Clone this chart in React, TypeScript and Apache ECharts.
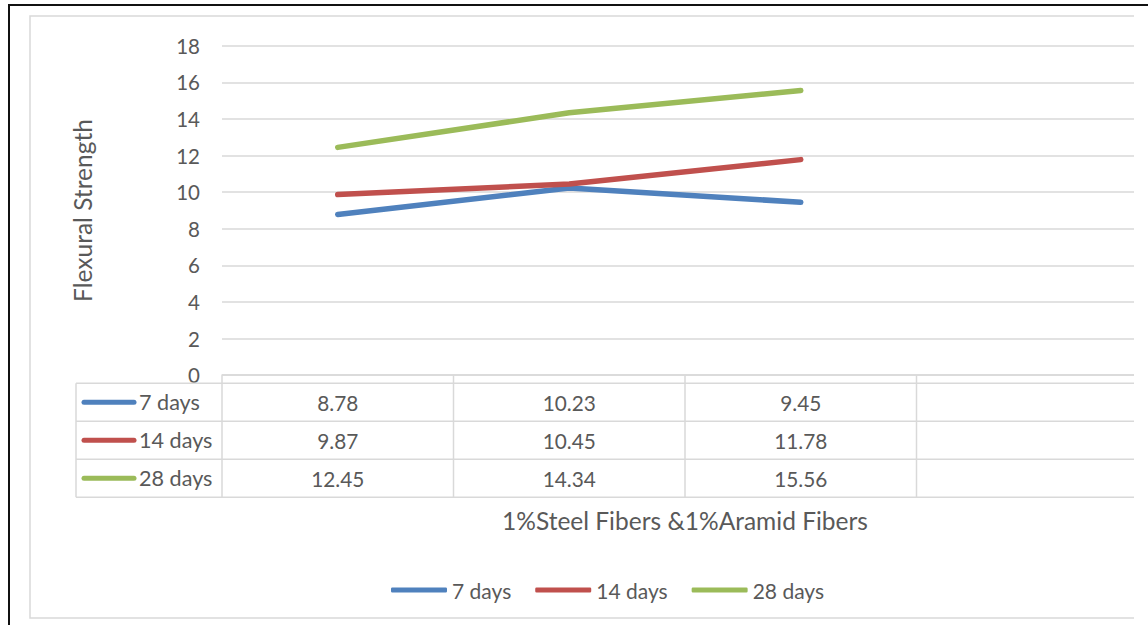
import React, { useEffect, useRef } from 'react';
import * as echarts from 'echarts';

// Flexural strength of mixes with 1% steel + 1% aramid fibres, by curing age
const categories = ['M1', 'M2', 'M3', 'M4'];
const seriesNames = ['7 days', '14 days', '28 days'];
const days7 = [8.78, 10.23, 9.45];
const days14 = [9.87, 10.45, 11.78];
const days28 = [12.45, 14.34, 15.56];
const seriesValues = [days7, days14, days28];
const seriesColors = ['#4F81BD', '#C0504D', '#9BBB59'];
const yMin = 0;
const yMax = 18;
const yStep = 2;
const xTitle = '1%Steel Fibers &1%Aramid Fibers';
const yTitle = 'Flexural Strength';

const FONT = 'Lato, "Open Sans", sans-serif';
const TEXT = '#595959';
const GRID = '#D9D9D9';
const FS_TICK = 20.5;
const FS_VALUE = 20.8;
const FS_NAME = 21.6;
const FS_LEGEND = 21;
const FS_TITLE = 24.5;

export default function App() {
  const ref = useRef<HTMLDivElement>(null);

  useEffect(() => {
    const chart = echarts.init(ref.current!, null, { renderer: 'svg' });

    chart.setOption({
      animation: false,
      backgroundColor: '#ffffff',
      textStyle: { fontFamily: FONT },
      grid: { left: 222, top: 45.8, width: 931, height: 329.4, containLabel: false },
      xAxis: {
        type: 'category',
        data: categories,
        boundaryGap: true,
        axisLine: { lineStyle: { color: GRID, width: 1.5 } },
        axisTick: { show: false },
        axisLabel: { show: false },
        splitLine: { show: false },
        name: xTitle,
        nameLocation: 'middle',
        nameGap: 133,
        nameTextStyle: { color: TEXT, fontSize: FS_TITLE, fontFamily: FONT },
      },
      yAxis: {
        type: 'value',
        min: yMin,
        max: yMax,
        interval: yStep,
        axisLine: { show: false },
        axisTick: { show: false },
        axisLabel: { color: TEXT, fontSize: FS_TICK, fontFamily: FONT, margin: 22 },
        splitLine: { lineStyle: { color: GRID, width: 1.5 } },
        name: yTitle,
        nameLocation: 'middle',
        nameRotate: 90,
        nameGap: 127,
        nameTextStyle: { color: TEXT, fontSize: FS_TITLE, fontFamily: FONT },
      },
      legend: {
        left: 386,
        top: 573,
        icon: 'roundRect',
        itemWidth: 56,
        itemHeight: 5,
        itemGap: 24,
        textStyle: { color: TEXT, fontSize: FS_LEGEND, fontFamily: FONT, lineHeight: 24 },
        data: seriesNames,
      },
      series: seriesNames.map((name, i) => ({
        name,
        type: 'line',
        data: seriesValues[i],
        showSymbol: false,
        symbol: 'none',
        color: seriesColors[i],
        lineStyle: { width: 5.5, color: seriesColors[i], cap: 'round', join: 'round' },
        z: 5,
      })),
    });

    // Data table under the plot, laid out from the axis scales
    const centers = categories.map((c) => chart.convertToPixel({ xAxisIndex: 0 }, c) as number);
    const catW = centers[1] - centers[0];
    const axisY = chart.convertToPixel({ yAxisIndex: 0 }, yMin) as number;
    const tableTop = axisY + 8;
    const rowH = 38;
    const tableLeft = 76;
    const tableRight = centers[centers.length - 1] + catW / 2;
    const rows = seriesNames.length;
    const tableBottom = tableTop + rows * rowH;

    const graphics: any[] = [];
    // outer frames
    graphics.push({
      type: 'rect',
      shape: { x: 30, y: 16, width: 1200, height: 602 },
      style: { fill: 'none', stroke: GRID, lineWidth: 1.5 },
      z: 1,
    });
    for (let r = 0; r <= rows; r++) {
      const y = tableTop + r * rowH;
      graphics.push({
        type: 'line',
        shape: { x1: tableLeft, y1: y, x2: tableRight, y2: y },
        style: { stroke: GRID, lineWidth: 1.5 },
        z: 2,
      });
    }
    graphics.push({
      type: 'line',
      shape: { x1: tableLeft, y1: tableTop, x2: tableLeft, y2: tableBottom },
      style: { stroke: GRID, lineWidth: 1.5 },
      z: 2,
    });
    categories.forEach((_, i) => {
      const x = centers[i] - catW / 2;
      graphics.push({
        type: 'line',
        shape: { x1: x, y1: axisY, x2: x, y2: tableBottom },
        style: { stroke: GRID, lineWidth: 1.5 },
        z: 2,
      });
    });
    seriesNames.forEach((name, r) => {
      const cy = tableTop + r * rowH + rowH / 2;
      graphics.push({
        type: 'line',
        shape: { x1: 84, y1: cy, x2: 134, y2: cy },
        style: { stroke: seriesColors[r], lineWidth: 5, lineCap: 'round' },
        z: 3,
      });
      graphics.push({
        type: 'text',
        x: 139,
        y: cy,
        style: { text: name, fill: TEXT, font: `${FS_NAME}px ${FONT}`, textAlign: 'left', textVerticalAlign: 'middle' },
        z: 3,
      });
      seriesValues[r].forEach((v, i) => {
        graphics.push({
          type: 'text',
          x: centers[i],
          y: cy,
          style: { text: v.toFixed(2), fill: TEXT, font: `${FS_VALUE}px ${FONT}`, textAlign: 'center', textVerticalAlign: 'middle' },
          z: 3,
        });
      });
    });
    // right-edge trim and black border
    graphics.push({
      type: 'rect',
      shape: { x: 1134, y: 7, width: 30, height: 630 },
      style: { fill: '#ffffff' },
      z: 100,
    });
    graphics.push({
      type: 'line',
      shape: { x1: 8, y1: 5, x2: 1148, y2: 5 },
      style: { stroke: '#111111', lineWidth: 2 },
      z: 101,
    });
    graphics.push({
      type: 'line',
      shape: { x1: 9, y1: 4, x2: 9, y2: 625 },
      style: { stroke: '#111111', lineWidth: 2 },
      z: 101,
    });

    chart.setOption({ graphic: graphics });

    return () => chart.dispose();
  }, []);

  return (
    <div
      ref={ref}
      style={{ position: 'fixed', left: 0, top: 0, width: 1148, height: 625, background: '#fff' }}
    />
  );
}
